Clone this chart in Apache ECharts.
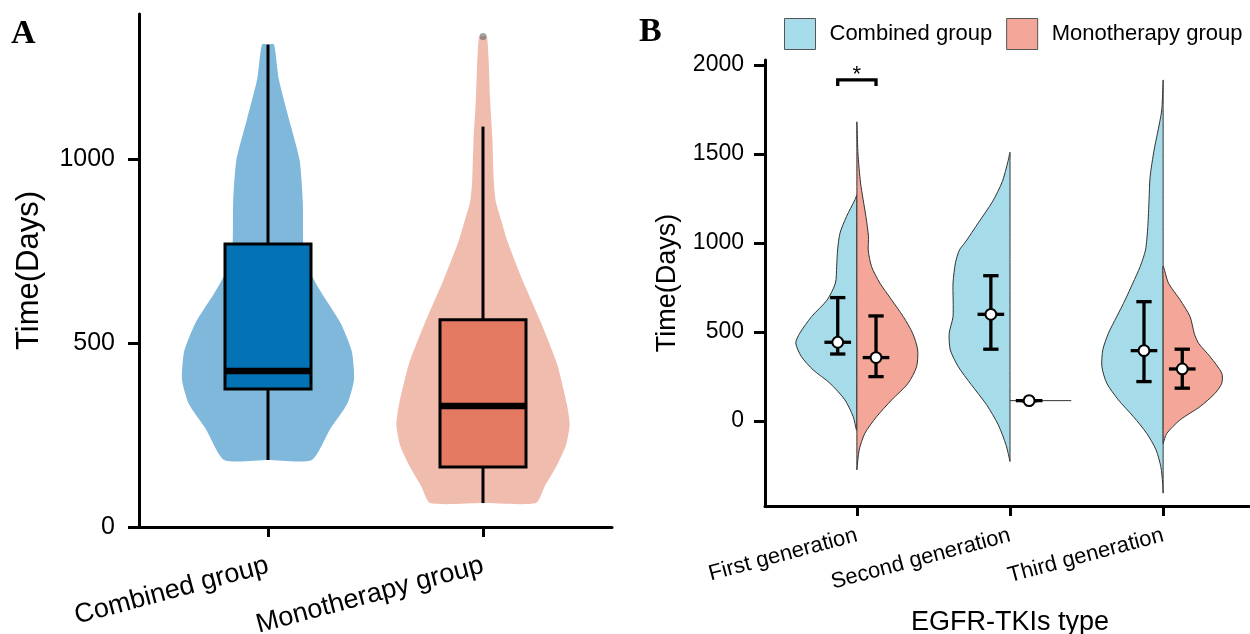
<!DOCTYPE html>
<html><head><meta charset="utf-8">
<script src="https://cdn.jsdelivr.net/npm/echarts@6/dist/echarts.min.js"></script>
<style>html,body{margin:0;padding:0;background:#fff}#chart{width:1250px;height:634px}</style>
</head><body><div id="chart"></div>
<script>
// ================= Panel A data =================
const groupsA = ['Combined group', 'Monotherapy group'];
// violin outlines: [value (days), half-width in category units]
const violinA_combined = [[182,0.204],[267,0.29],[334,0.368],[400,0.40],[477,0.39],[555,0.337],[640,0.245],[700,0.19],[760,0.165],[884,0.162],[997,0.147],[1107,0.098],[1218,0.05],[1311,0.028]];
const violinA_mono = [[65,0.246],[113,0.289],[168,0.344],[223,0.386],[278,0.403],[334,0.39],[444,0.344],[555,0.27],[665,0.188],[776,0.114],[831,0.086],[886,0.059],[942,0.05],[1052,0.044],[1163,0.033],[1273,0.026],[1333,0.018]];
// box stats: [lower whisker, Q1, median, Q3, upper whisker]
const boxA_combined = [182, 375, 424, 769, 1311];
const boxA_mono = [65, 163, 329, 563, 1088];
const outliersA_mono = [1333];
const ticksA_y = [0, 500, 1000];

// ================= Panel B data =================
const typesB = ['First generation', 'Second generation', 'Third generation'];
const legendB = ['Combined group', 'Monotherapy group'];
const violinB_combined = [
  [[-51,0.003],[24,0.024],[118,0.078],[212,0.176],[287,0.286],[361,0.362],[437,0.399],[493,0.373],[586,0.296],[680,0.194],[775,0.14],[867,0.132],[961,0.126],[1056,0.11],[1148,0.068],[1242,0.013],[1270,0]],
  [[-228,0],[-137,0.025],[-23,0.076],[91,0.153],[205,0.254],[305,0.338],[399,0.39],[493,0.397],[586,0.372],[775,0.372],[889,0.356],[961,0.33],[1003,0.293],[1117,0.204],[1231,0.115],[1345,0.05],[1459,0.013],[1510,0]],
  [[-406,0],[-350,0.003],[-257,0.015],[-163,0.046],[-70,0.107],[24,0.194],[118,0.292],[212,0.368],[305,0.40],[399,0.394],[493,0.357],[586,0.303],[680,0.248],[774,0.198],[867,0.15],[961,0.115],[1092,0.1],[1242,0.092],[1372,0.085],[1522,0.059],[1616,0.037],[1747,0.009],[1916,0]]
];
const violinB_mono = [
  [[-275,0],[-163,0.015],[-70,0.052],[24,0.129],[118,0.227],[212,0.335],[305,0.39],[399,0.397],[493,0.364],[586,0.303],[680,0.227],[775,0.15],[867,0.096],[961,0.074],[1035,0.076],[1148,0.059],[1337,0.024],[1505,0.007],[1681,0]],
  [[114,0.40]],
  [[-126,0],[-70,0.024],[6,0.111],[81,0.242],[156,0.34],[212,0.383],[268,0.383],[361,0.307],[437,0.231],[493,0.203],[586,0.176],[680,0.111],[774,0.035],[870,0]]
];
// error bars: [lower, mean, upper]
const errB_combined = [[376,442,693],[403,599,816],[221,395,670]];
const errB_mono = [[249,356,590],[114,114,114],[184,292,403]];
const ticksB_y = [0, 500, 1000, 1500, 2000];
// significance: [category, bracket height, label]
const sigB = [1, 1916, '*'];

// ================= helpers =================
const FONT = 'Liberation Sans';
const DODGE = 0.125;

function dedupe(pts){
  const out=[];
  for(const p of pts){
    const q=out[out.length-1];
    if(!q || Math.abs(q[0]-p[0])>0.01 || Math.abs(q[1]-p[1])>0.01) out.push(p);
  }
  return out;
}
function violinPoints(api, c, prof, side){
  let pts=[];
  if(side==='both'){
    pts.push(api.coord([c, prof[0][0]]));
    for(const [v,w] of prof) pts.push(api.coord([c-w, v]));
    pts.push(api.coord([c, prof[prof.length-1][0]]));
    for(let i=prof.length-1;i>=0;i--) pts.push(api.coord([c+prof[i][1], prof[i][0]]));
  } else {
    const s = side==='left' ? -1 : 1;
    for(const [v,w] of prof) pts.push(api.coord([c+s*w, v]));
    for(let i=prof.length-1;i>=0;i--) pts.push(api.coord([c, prof[i][0]]));
  }
  return dedupe(pts);
}

const chart = echarts.init(document.getElementById('chart'), null, {renderer:'canvas'});

function axisCommon(){
  return {
    axisLine:{show:true, onZero:false, lineStyle:{color:'#000', width:3}},
    splitLine:{show:false}
  };
}
const plain = v => String(v);

const option = {
  animation:false,
  backgroundColor:'#fff',
  graphic:[
    {type:'text', left:11, top:17, style:{text:'A', font:'bold 34px "Liberation Serif"', fill:'#000'}},
    {type:'text', left:639, top:15, style:{text:'B', font:'bold 34px "Liberation Serif"', fill:'#000'}}
  ],
  legend:{
    data: legendB.map((n,i)=>({name:n, itemStyle:{color: i===0?'#A6DCE9':'#F4A698', borderColor:'#555', borderWidth:1}})),
    left:784, top:18, width:700, padding:0, itemWidth:31, itemHeight:31, itemGap:14, icon:'rect',
    selectedMode:false,
    textStyle:{fontSize:22, color:'#000', fontFamily:FONT, padding:[0,0,0,9]}
  },
  grid:[
    {left:139, top:14, width:473, height:513, outerBoundsMode:'none', containLabel:false},
    {left:765, top:60, width:490, height:446, outerBoundsMode:'none', containLabel:false}
  ],
  xAxis:[
    Object.assign(axisCommon(), {gridIndex:0, type:'value', min:0.4, max:2.6,
      axisTick:{show:true, customValues:[1,2], length:10, lineStyle:{color:'#000', width:3}},
      axisLabel:{customValues:[1,2], formatter:v=>groupsA[Math.round(v)-1]||'', rotate:15, fontSize:27, color:'#000', fontFamily:FONT, margin:38}
    }),
    Object.assign(axisCommon(), {gridIndex:1, type:'value', min:0.4, max:3.6,
      axisTick:{show:true, customValues:[1,2,3], length:10, lineStyle:{color:'#000', width:3}},
      axisLabel:{customValues:[1,2,3], formatter:v=>typesB[Math.round(v)-1]||'', rotate:15, fontSize:22, color:'#000', fontFamily:FONT, margin:29},
      name:'EGFR-TKIs type', nameLocation:'middle', nameGap:103,
      nameTextStyle:{fontSize:27, color:'#000', fontFamily:FONT}
    })
  ],
  yAxis:[
    Object.assign(axisCommon(), {gridIndex:0, type:'value', min:0, max:1394,
      axisTick:{show:true, customValues:ticksA_y, length:11, lineStyle:{color:'#000', width:3}},
      axisLabel:{customValues:ticksA_y, formatter:plain, fontSize:25, color:'#000', fontFamily:FONT, margin:24},
      name:'Time(Days)', nameLocation:'middle', nameGap:94, nameRotate:90,
      nameTextStyle:{fontSize:31, color:'#000', fontFamily:FONT}
    }),
    Object.assign(axisCommon(), {gridIndex:1, type:'value', min:-478, max:2028,
      axisTick:{show:true, customValues:ticksB_y, length:11, lineStyle:{color:'#000', width:3}},
      axisLabel:{customValues:ticksB_y, formatter:plain, fontSize:23, color:'#000', fontFamily:FONT, margin:21},
      name:'Time(Days)', nameLocation:'middle', nameGap:84, nameRotate:90,
      nameTextStyle:{fontSize:27, color:'#000', fontFamily:FONT}
    })
  ],
  series:[
    // ---- Panel A violins
    {type:'custom', name:'A violins', xAxisIndex:0, yAxisIndex:0, z:1, silent:true,
      data: groupsA.map((g,i)=>[i+1, [boxA_combined,boxA_mono][i][2]]),
      renderItem:(params, api)=>{
        const i=params.dataIndex;
        const prof=[violinA_combined, violinA_mono][i];
        const fill=['#7FB8DA','#F0BCAE'][i];
        return {type:'polygon', shape:{points:violinPoints(api, i+1, prof, 'both'), smooth:0.2},
          style:{fill:fill, stroke:null}};
      }
    },
    // ---- Panel A boxes
    {type:'custom', name:'A boxes', xAxisIndex:0, yAxisIndex:0, z:3, silent:true,
      data: groupsA.map((g,i)=>[i+1].concat([boxA_combined,boxA_mono][i])),
      renderItem:(params, api)=>{
        const i=params.dataIndex, c=api.value(0);
        const mn=api.value(1), q1=api.value(2), md=api.value(3), q3=api.value(4), mx=api.value(5);
        const hw=0.2;
        const pMin=api.coord([c,mn]), pQ1=api.coord([c,q1]), pQ3=api.coord([c,q3]), pMax=api.coord([c,mx]);
        const tl=api.coord([c-hw,q3]), br=api.coord([c+hw,q1]);
        const mL=api.coord([c-hw,md]), mR=api.coord([c+hw,md]);
        const fill=['#0373B5','#E57A62'][i];
        const ls={stroke:'#000', lineWidth:3};
        return {type:'group', children:[
          {type:'line', shape:{x1:pMin[0],y1:pMin[1],x2:pQ1[0],y2:pQ1[1]}, style:ls},
          {type:'line', shape:{x1:pQ3[0],y1:pQ3[1],x2:pMax[0],y2:pMax[1]}, style:ls},
          {type:'rect', shape:{x:tl[0], y:tl[1], width:br[0]-tl[0], height:br[1]-tl[1]}, style:{fill:fill, stroke:'#000', lineWidth:3}},
          {type:'line', shape:{x1:mL[0],y1:mL[1],x2:mR[0],y2:mR[1]}, style:{stroke:'#000', lineWidth:6.5}}
        ]};
      }
    },
    // ---- Panel A outlier
    {type:'scatter', name:'A outliers', xAxisIndex:0, yAxisIndex:0, z:4, silent:true,
      data: outliersA_mono.map(v=>[2,v]), symbolSize:7,
      itemStyle:{color:'rgba(90,90,90,0.7)'}
    },
    // ---- Panel B violins
    {type:'custom', name:legendB[0], xAxisIndex:1, yAxisIndex:1, z:1, silent:true,
      itemStyle:{color:'#A6DCE9'},
      data: typesB.map((t,i)=>[i+1, 0]),
      renderItem:(params, api)=>{
        const i=params.dataIndex, prof=violinB_combined[i];
        return {type:'polygon', shape:{points:violinPoints(api, i+1, prof, 'left'), smooth: prof.length>2?0.25:0},
          style:{fill:'#A6DCE9', stroke:'#333', lineWidth:1}};
      }
    },
    {type:'custom', name:legendB[1], xAxisIndex:1, yAxisIndex:1, z:1, silent:true,
      itemStyle:{color:'#F4A698'},
      data: typesB.map((t,i)=>[i+1, 0]),
      renderItem:(params, api)=>{
        const i=params.dataIndex, prof=violinB_mono[i];
        if(prof.length<2){
          const a=api.coord([i+1, prof[0][0]]), b=api.coord([i+1+prof[0][1], prof[0][0]]);
          return {type:'line', shape:{x1:a[0],y1:a[1],x2:b[0],y2:b[1]}, style:{stroke:'#333', lineWidth:1}};
        }
        return {type:'polygon', shape:{points:violinPoints(api, i+1, prof, 'right'), smooth:0.25},
          style:{fill:'#F4A698', stroke:'#333', lineWidth:1}};
      }
    },
    // ---- Panel B error bars
    {type:'custom', name:'B errorbars', xAxisIndex:1, yAxisIndex:1, z:5, silent:true,
      data: errB_combined.map((e,i)=>[i+1-DODGE].concat(e)).concat(errB_mono.map((e,i)=>[i+1+DODGE].concat(e))),
      renderItem:(params, api)=>{
        const x=api.value(0), lo=api.value(1), m=api.value(2), hi=api.value(3);
        const pLo=api.coord([x,lo]), pM=api.coord([x,m]), pHi=api.coord([x,hi]);
        const cap=api.size([0.05,0])[0], bar=api.size([0.087,0])[0];
        const ls={stroke:'#000', lineWidth:3.3};
        return {type:'group', children:[
          {type:'line', shape:{x1:pLo[0],y1:pLo[1],x2:pHi[0],y2:pHi[1]}, style:ls},
          {type:'line', shape:{x1:pLo[0]-cap,y1:pLo[1],x2:pLo[0]+cap,y2:pLo[1]}, style:ls},
          {type:'line', shape:{x1:pHi[0]-cap,y1:pHi[1],x2:pHi[0]+cap,y2:pHi[1]}, style:ls},
          {type:'line', shape:{x1:pM[0]-bar,y1:pM[1],x2:pM[0]+bar,y2:pM[1]}, style:ls},
          {type:'circle', shape:{cx:pM[0], cy:pM[1], r:5.4}, style:{fill:'#fff', stroke:'#000', lineWidth:2}}
        ]};
      }
    },
    // ---- Panel B significance bracket
    {type:'custom', name:'B signif', xAxisIndex:1, yAxisIndex:1, z:5, silent:true,
      data:[[sigB[0], sigB[1]]],
      renderItem:(params, api)=>{
        const c=api.value(0), h=api.value(1);
        const l=api.coord([c-DODGE,h]), r=api.coord([c+DODGE,h]);
        const tick=6;
        const ls={stroke:'#000', lineWidth:3.3};
        const top=api.coord([c,h]);
        return {type:'group', children:[
          {type:'polyline', shape:{points:[[l[0],l[1]+tick],[l[0],l[1]],[r[0],r[1]],[r[0],r[1]+tick]]}, style:Object.assign({fill:null},ls)},
          {type:'text', x:top[0], y:top[1]-5, style:{text:sigB[2], font:'22px "'+FONT+'"', fill:'#000', align:'center', verticalAlign:'middle'}}
        ]};
      }
    }
  ]
};
chart.setOption(option);
</script>
</body></html>
